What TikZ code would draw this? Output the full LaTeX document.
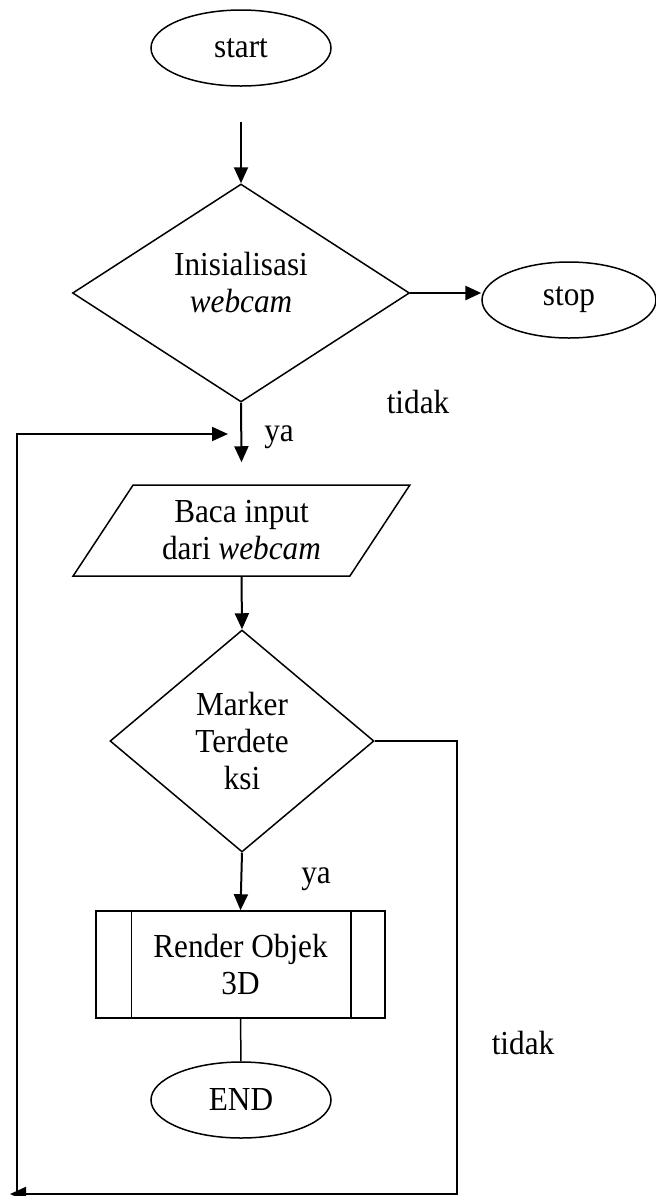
\documentclass[tikz,border=0pt]{standalone}
\usepackage{fontspec}
\setmainfont{Liberation Serif}[FakeStretch=0.93]
\usetikzlibrary{arrows.meta,shapes.geometric}
\begin{document}
\begin{tikzpicture}[x=0.5pt,y=-0.5pt,
        font=\fontsize{16.8}{18.5}\selectfont,
        every node/.style={align=center},
        terminal/.style={draw,ellipse,line width=0.75pt,minimum width=90pt,minimum height=38pt,inner sep=0pt},
        decision/.style={draw,diamond,line width=0.75pt,inner sep=0pt},
        inout/.style={draw,trapezium,trapezium left angle=53.6,trapezium right angle=126.4,
            trapezium stretches,line width=0.75pt,inner sep=0pt},
        subproc/.style={draw,rectangle,line width=0.75pt,minimum width=144.5pt,minimum height=53.5pt},
        arr/.style={line width=1pt,-{Triangle[length=8pt,width=7pt]}},
        ln/.style={line width=0.75pt}]
        \useasboundingbox (0,0) rectangle (656,1196);
        \node[terminal] (start) at (241,48) {start};
        \coordinate (a0) at (241,122);
        \node[decision,minimum width=168.5pt,minimum height=109pt] (init) at (241,293) {};
        \node (initlbl) at (241,283) {Inisialisasi\\\textit{webcam}};
        \node[terminal,minimum width=87pt] (stop) at (569,300) {stop};
        \node (tidak1) at (418,402) {tidak};
        \node (ya1) at (279,437) {ya};
        \node[inout,minimum width=168.5pt,minimum height=45.5pt] (baca) at (241.5,530.5) {Baca input\\dari \textit{webcam}};
        \node[decision,minimum width=132pt,minimum height=111pt] (marker) at (242,741) {Marker\\Terdete\\ksi};
        \node (ya2) at (316,879) {ya};
        \node[subproc] (render) at (240.5,964.5) {Render Objek\\3D};
        \draw[ln] ([xshift=18pt]render.north west) -- ([xshift=18pt]render.south west);
        \draw[ln] ([xshift=-17.5pt]render.north east) -- ([xshift=-17.5pt]render.south east);
        \node (tidak2) at (523,1043) {tidak};
        \node[terminal] (end) at (241,1100) {END};
        % alur utama
        \draw[arr] (a0) -- (init.north);
        \draw[arr,line width=1.4pt] (init.east) -- (init.east -| stop.west);
        \draw[arr] (init.south) -- ([yshift=11pt]baca.north);
        \draw[arr] (baca.south) -- (marker.north);
        \draw[arr] (marker.south) -- (render.north);
        \draw[ln] (render.south) -- (end.north);
        % kembali ke input
        \coordinate (c1) at (457,1194);
        \coordinate (c2) at (10,1194);
        \coordinate (c3) at (17,1194);
        \coordinate (c4) at (228,434);
        \draw[arr] (marker.east) -| (c1) -- (c2);
        \draw[arr] (c3) |- (c4);
    \end{tikzpicture}
\end{document}
